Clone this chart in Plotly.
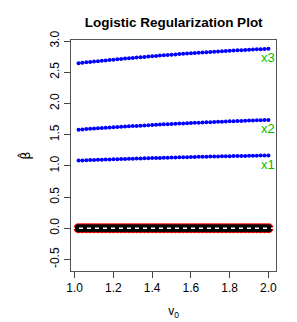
import plotly.graph_objects as go

v0 = [1.02, 1.04, 1.06, 1.08, 1.10, 1.12, 1.14, 1.16, 1.18, 1.20,
      1.22, 1.24, 1.26, 1.28, 1.30, 1.32, 1.34, 1.36, 1.38, 1.40,
      1.42, 1.44, 1.46, 1.48, 1.50, 1.52, 1.54, 1.56, 1.58, 1.60,
      1.62, 1.64, 1.66, 1.68, 1.70, 1.72, 1.74, 1.76, 1.78, 1.80,
      1.82, 1.84, 1.86, 1.88, 1.90, 1.92, 1.94, 1.96, 1.98, 2.00]

beta_x3 = [2.645, 2.652, 2.658, 2.664, 2.671, 2.677, 2.683, 2.689, 2.695, 2.701,
           2.707, 2.712, 2.718, 2.724, 2.729, 2.735, 2.740, 2.745, 2.751, 2.756,
           2.761, 2.766, 2.771, 2.776, 2.780, 2.785, 2.790, 2.794, 2.799, 2.803,
           2.807, 2.812, 2.816, 2.820, 2.824, 2.828, 2.832, 2.836, 2.839, 2.843,
           2.847, 2.850, 2.853, 2.857, 2.860, 2.863, 2.866, 2.869, 2.872, 2.875]

beta_x2 = [1.580, 1.584, 1.589, 1.593, 1.597, 1.601, 1.605, 1.610, 1.614, 1.618,
           1.621, 1.625, 1.629, 1.633, 1.637, 1.640, 1.644, 1.648, 1.651, 1.654,
           1.658, 1.661, 1.665, 1.668, 1.671, 1.674, 1.677, 1.680, 1.683, 1.686,
           1.689, 1.692, 1.695, 1.698, 1.700, 1.703, 1.706, 1.708, 1.711, 1.713,
           1.716, 1.718, 1.720, 1.723, 1.725, 1.727, 1.729, 1.731, 1.733, 1.735]

beta_x1 = [1.085, 1.087, 1.090, 1.092, 1.094, 1.096, 1.098, 1.100, 1.103, 1.105,
           1.107, 1.109, 1.111, 1.113, 1.115, 1.117, 1.118, 1.120, 1.122, 1.124,
           1.126, 1.127, 1.129, 1.131, 1.133, 1.134, 1.136, 1.137, 1.139, 1.141,
           1.142, 1.144, 1.145, 1.147, 1.148, 1.149, 1.151, 1.152, 1.153, 1.155,
           1.156, 1.157, 1.158, 1.159, 1.161, 1.162, 1.163, 1.164, 1.165, 1.166]

beta_null = [0.0] * 50

labels = ["x1", "x2", "x3"]
label_offset = 0.14

x_ticks = [1.0, 1.2, 1.4, 1.6, 1.8, 2.0]
y_ticks = [-0.5, 0.0, 0.5, 1.0, 1.5, 2.0, 2.5, 3.0]

fig = go.Figure()

# null coefficients: red outline with black band
fig.add_trace(go.Scatter(x=v0, y=beta_null, mode="markers",
                         marker=dict(color="red", size=10, line=dict(width=0)),
                         showlegend=False, hoverinfo="skip"))
fig.add_trace(go.Scatter(x=v0, y=beta_null, mode="markers",
                         marker=dict(color="black", size=8, line=dict(width=0)),
                         showlegend=False, hoverinfo="skip"))

for ys in (beta_x1, beta_x2, beta_x3):
    fig.add_trace(go.Scatter(x=v0, y=ys, mode="lines+markers",
                             line=dict(color="blue", width=1),
                             marker=dict(color="blue", size=4, line=dict(width=0)),
                             showlegend=False))

# white dashed reference line at zero
fig.add_shape(type="line", xref="paper", x0=0, x1=1, yref="y", y0=0, y1=0,
              line=dict(color="white", width=1.5, dash="4px,4px"), layer="above")

for lab, ys in zip(labels, (beta_x1, beta_x2, beta_x3)):
    fig.add_annotation(x=v0[-1], y=ys[-1] - label_offset, text=lab, showarrow=False,
                       xanchor="center", yanchor="middle",
                       font=dict(color="#00C000", size=13, family="Liberation Sans"))

fig.update_layout(
    width=297, height=322,
    margin=dict(l=71, r=21, t=40, b=51, autoexpand=False),
    paper_bgcolor="white", plot_bgcolor="white",
    font=dict(family="Liberation Sans", size=12, color="black"),
    title=dict(text="<b>Logistic Regularization Plot</b>", x=0.585, xanchor="center",
               y=0.93, yanchor="middle", font=dict(size=13.5, color="black")),
    showlegend=False,
)
fig.update_xaxes(range=[0.981, 2.039], tickvals=x_ticks, automargin=False,
                 ticktext=["%.1f" % t for t in x_ticks],
                 ticks="outside", ticklen=6, tickcolor="#444", showgrid=False, zeroline=False,
                 showline=True, mirror=True, linecolor="#555", linewidth=1,
                 title=dict(text="v<sub>0</sub>", standoff=12, font=dict(size=12)))
fig.update_yaxes(range=[-0.684, 3.016], tickvals=y_ticks, automargin=False,
                 ticktext=["%.1f" % t for t in y_ticks],
                 tickangle=-90, ticks="outside", ticklen=6, tickcolor="#444",
                 showgrid=False, zeroline=False,
                 showline=True, mirror=True, linecolor="#555", linewidth=1,
                 title=dict(text="β̂", standoff=14,
                            font=dict(size=13, family="DejaVu Sans")))

fig.write_html("out.html", config={"displayModeBar": False},
               post_script="document.body.style.margin='0';")
